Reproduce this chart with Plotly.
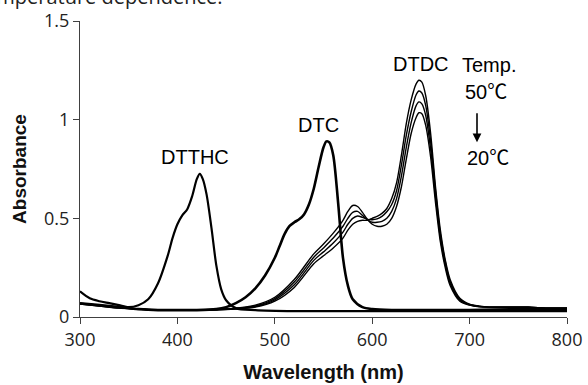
import plotly.graph_objects as go

# ---------------- data ----------------
wl_dtthc = [300, 310, 320, 330, 340, 350, 360, 370, 380, 390, 395, 400, 405, 410, 415,
            420, 423, 426, 430, 435, 440, 445, 450, 460, 480, 520, 600, 700, 800]
abs_dtthc = [0.13, 0.095, 0.08, 0.07, 0.06, 0.05, 0.06, 0.09, 0.17, 0.31, 0.40, 0.47, 0.515, 0.545, 0.61,
             0.70, 0.725, 0.70, 0.62, 0.45, 0.26, 0.14, 0.085, 0.045, 0.035, 0.03, 0.03, 0.03, 0.03]

wl_dtc = [300, 320, 340, 360, 380, 400, 420, 440, 450, 460, 470, 480, 490, 500, 505, 510, 515,
          520, 525, 530, 535, 540, 545, 550, 553, 556, 560, 565, 570, 575, 580, 590, 600, 620,
          650, 700, 750, 800]
abs_dtc = [0.07, 0.06, 0.05, 0.04, 0.035, 0.035, 0.035, 0.04, 0.05, 0.07, 0.10, 0.145, 0.21, 0.30,
           0.36, 0.42, 0.46, 0.48, 0.495, 0.52, 0.57, 0.65, 0.76, 0.86, 0.89, 0.885, 0.82, 0.58,
           0.30, 0.16, 0.09, 0.05, 0.04, 0.035, 0.035, 0.035, 0.04, 0.04]

wl_dtdc = [300, 320, 340, 360, 380, 400, 420, 440, 460, 480, 500, 520, 540, 550, 560, 570, 575,
           580, 585, 590, 595, 600, 605, 610, 615, 620, 625, 630, 635, 640, 645, 648, 651, 655,
           660, 665, 670, 675, 680, 690, 700, 710, 720, 740, 760, 780, 800]
abs_dtdc_50 = [0.07, 0.06, 0.05, 0.04, 0.035, 0.035, 0.035, 0.035, 0.04, 0.05, 0.08, 0.15, 0.27,
               0.31, 0.35, 0.40, 0.44, 0.47, 0.485, 0.49, 0.49, 0.50, 0.51, 0.525, 0.55, 0.60,
               0.68, 0.82, 0.98, 1.10, 1.18, 1.20, 1.19, 1.12, 0.93, 0.66, 0.44, 0.29, 0.19,
               0.095, 0.065, 0.055, 0.05, 0.05, 0.05, 0.045, 0.045]
abs_dtdc_40 = [0.068, 0.058, 0.048, 0.04, 0.035, 0.035, 0.035, 0.037, 0.042, 0.053, 0.087, 0.163,
               0.287, 0.33, 0.375, 0.43, 0.47, 0.50, 0.512, 0.505, 0.495, 0.493, 0.497, 0.51,
               0.533, 0.57, 0.64, 0.77, 0.92, 1.04, 1.125, 1.145, 1.135, 1.07, 0.89, 0.64, 0.42,
               0.28, 0.18, 0.09, 0.063, 0.054, 0.05, 0.05, 0.05, 0.045, 0.045]
abs_dtdc_30 = [0.066, 0.056, 0.046, 0.04, 0.035, 0.035, 0.035, 0.038, 0.043, 0.056, 0.093, 0.177,
               0.303, 0.35, 0.40, 0.46, 0.50, 0.53, 0.535, 0.515, 0.493, 0.48, 0.48, 0.485, 0.50,
               0.535, 0.60, 0.715, 0.86, 0.985, 1.07, 1.09, 1.08, 1.02, 0.85, 0.61, 0.40, 0.265,
               0.17, 0.085, 0.062, 0.053, 0.05, 0.05, 0.05, 0.045, 0.045]
abs_dtdc_20 = [0.065, 0.055, 0.045, 0.04, 0.035, 0.035, 0.035, 0.04, 0.045, 0.06, 0.10, 0.19,
               0.32, 0.37, 0.425, 0.49, 0.535, 0.565, 0.56, 0.53, 0.495, 0.47, 0.46, 0.46, 0.47,
               0.50, 0.56, 0.66, 0.80, 0.93, 1.01, 1.035, 1.03, 0.97, 0.81, 0.58, 0.38, 0.25,
               0.16, 0.08, 0.06, 0.052, 0.05, 0.05, 0.05, 0.045, 0.045]

x_ticks = [300, 400, 500, 600, 700, 800]
y_ticks = [0, 0.5, 1, 1.5]
y_tick_text = ["0", "0.5", "1", "1.5"]

# ---------------- figure ----------------
fig = go.Figure()
line_kw = dict(shape="spline", smoothing=0.8, color="black")

fig.add_trace(go.Scatter(x=wl_dtthc, y=abs_dtthc, mode="lines", line=dict(width=2.2, **line_kw)))
fig.add_trace(go.Scatter(x=wl_dtc, y=abs_dtc, mode="lines", line=dict(width=2.6, **line_kw)))
for ys in [abs_dtdc_50, abs_dtdc_40, abs_dtdc_30, abs_dtdc_20]:
    fig.add_trace(go.Scatter(x=wl_dtdc, y=ys, mode="lines", line=dict(width=1.4, **line_kw)))

lab_font = dict(family="Liberation Sans, Arial, sans-serif", size=20, color="black")
cjk = "<span style='font-family:Noto Sans CJK JP'>℃</span>"
labels = [
    ("DTTHC", 418, 0.81),
    ("DTC", 545, 0.975),
    ("DTDC", 650, 1.28),
    ("Temp.", 720, 1.275),
    ("50" + cjk, 717, 1.15),
    ("20" + cjk, 719, 0.815),
]
for t, x, y in labels:
    fig.add_annotation(x=x, y=y, xref="x", yref="y", text=t, showarrow=False,
                       font=lab_font, xanchor="center", yanchor="middle")

# arrow 50C -> 20C
fig.add_annotation(x=707.6, y=0.885, ax=707.6, ay=1.04, xref="x", yref="y",
                   axref="x", ayref="y", text="", showarrow=True,
                   arrowhead=2, arrowsize=1.1, arrowwidth=1.6, arrowcolor="black")

# cropped caption at the top
fig.add_annotation(x=-0.222, y=1.0304, xref="paper", yref="paper",
                   text="Temperature dependence.", showarrow=False,
                   xanchor="left", yanchor="bottom",
                   font=dict(family="Open Sans, sans-serif", size=20, color="#222"))

axis_common = dict(showgrid=False, zeroline=False, showline=True, linecolor="#404040",
                   linewidth=1.4, ticks="outside", ticklen=6, tickwidth=1.4,
                   tickcolor="#404040", automargin=False,
                   tickfont=dict(family="Open Sans, sans-serif", size=18, color="#222"))

fig.update_layout(
    width=588, height=385,
    margin=dict(l=80, r=21, t=21, b=68),
    paper_bgcolor="white", plot_bgcolor="white",
    showlegend=False,
    xaxis=dict(range=[300, 800], tickvals=x_ticks, **axis_common,
               title=dict(text="<b>Wavelength (nm)</b>", standoff=15,
                          font=dict(family="Liberation Sans, Arial, sans-serif", size=20, color="#111"))),
    yaxis=dict(range=[0, 1.5], tickvals=y_ticks, ticktext=y_tick_text, **axis_common,
               title=dict(text="<b>Absorbance</b>", standoff=12,
                          font=dict(family="Liberation Sans, Arial, sans-serif", size=19, color="#111"))),
)

fig.write_html("out.html")
